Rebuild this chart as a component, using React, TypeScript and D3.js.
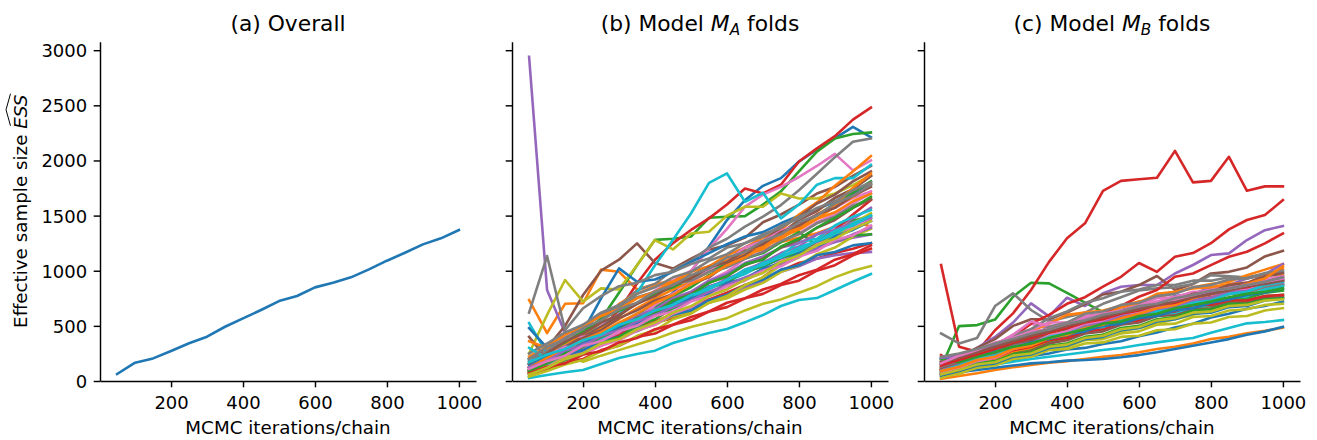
import React, { useEffect, useRef } from 'react';
import * as d3 from 'd3';

// iterations per chain (x values shared by every line)
const iterations = [50, 100, 150, 200, 250, 300, 350, 400, 450, 500, 550, 600, 650, 700, 750, 800, 850, 900, 950, 1000];

// (a) overall ESS
const overallEss = [63, 166, 205, 272, 342, 402, 492, 568, 644, 725, 771, 849, 891, 940, 1012, 1091, 1163, 1239, 1294, 1369];

// (b) model M_A, one row per fold
const foldsA = [
  [80, 150, 205, 280, 365, 430, 520, 650, 800, 990, 1220, 1460, 1640, 1770, 1840, 1990, 2100, 2200, 2305, 2210],
  [734, 435, 700, 705, 1010, 990, 830, 880, 910, 950, 1010, 1080, 1150, 1190, 1260, 1300, 1340, 1400, 1460, 1398],
  [80, 200, 300, 420, 560, 800, 1050, 1280, 1290, 1310, 1480, 1490, 1495, 1600, 1720, 1900, 2080, 2200, 2240, 2254],
  [100, 170, 250, 380, 480, 640, 885, 1100, 1250, 1370, 1475, 1600, 1746, 1700, 1780, 1990, 2110, 2220, 2370, 2480],
  [2940, 825, 435, 400, 430, 470, 560, 610, 700, 770, 840, 930, 990, 1080, 1130, 1190, 1240, 1260, 1300, 1330],
  [200, 300, 500, 780, 1000, 1100, 1248, 1070, 1020, 1110, 1190, 1230, 1300, 1440, 1510, 1600, 1700, 1760, 1860, 1950],
  [150, 240, 330, 410, 500, 610, 700, 820, 910, 1000, 1200, 1380, 1580, 1690, 1760, 1850, 1950, 2060, 1910, 2000],
  [130, 280, 390, 510, 580, 690, 820, 880, 1010, 1090, 1210, 1290, 1400, 1490, 1595, 1730, 1880, 2030, 2170, 2200],
  [250, 600, 916, 720, 840, 830, 1050, 1278, 1193, 1338, 1353, 1500, 1580, 1580, 1700, 1655, 1655, 1700, 1776, 1867],
  [525, 250, 350, 420, 490, 600, 800, 1050, 1280, 1519, 1797, 1882, 1625, 1707, 1475, 1600, 1780, 1840, 1840, 1960],
  [480, 300, 260, 450, 750, 1021, 900, 920, 990, 1080, 1160, 1240, 1310, 1350, 1430, 1500, 1560, 1625, 1700, 1790],
  [150, 260, 340, 420, 530, 700, 790, 860, 900, 990, 1040, 1140, 1210, 1300, 1370, 1510, 1620, 1770, 1900, 2040],
  [60, 150, 240, 330, 430, 520, 610, 680, 770, 850, 960, 1040, 1140, 1230, 1310, 1410, 1500, 1610, 1710, 1810],
  [120, 180, 230, 300, 370, 420, 490, 540, 610, 670, 740, 800, 870, 920, 1000, 1070, 1110, 1160, 1200, 1250],
  [90, 160, 230, 300, 370, 460, 510, 600, 690, 750, 860, 910, 1010, 1070, 1160, 1220, 1330, 1400, 1470, 1570],
  [400, 200, 310, 400, 490, 590, 710, 770, 890, 950, 1040, 1090, 1210, 1270, 1390, 1490, 1610, 1690, 1810, 1900],
  [100, 200, 430, 400, 440, 500, 570, 630, 730, 790, 910, 990, 1110, 1170, 1270, 1340, 1440, 1510, 1610, 1700],
  [620, 1133, 462, 660, 770, 860, 890, 960, 990, 1060, 1110, 1210, 1250, 1330, 1390, 1490, 1550, 1660, 1740, 1860],
  [100, 180, 253, 175, 230, 280, 330, 380, 440, 490, 530, 570, 640, 700, 740, 800, 860, 940, 1000, 1042],
  [27, 54, 80, 100, 154, 208, 245, 275, 344, 392, 435, 471, 532, 598, 680, 734, 752, 825, 900, 970],
  [200, 240, 310, 360, 430, 500, 570, 620, 710, 780, 850, 900, 990, 1040, 1110, 1170, 1260, 1320, 1410, 1480],
  [360, 300, 270, 380, 470, 560, 660, 750, 830, 900, 990, 1050, 1150, 1210, 1310, 1370, 1470, 1530, 1630, 1700],
  [150, 260, 350, 450, 560, 640, 700, 790, 850, 940, 1000, 1060, 1110, 1160, 1260, 1350, 1230, 1340, 1450, 1500],
  [80, 130, 190, 250, 330, 400, 470, 530, 570, 620, 710, 770, 860, 940, 1060, 1140, 1270, 1370, 1510, 1640],
  [60, 120, 200, 270, 320, 400, 450, 520, 610, 660, 730, 780, 850, 900, 990, 1040, 1110, 1140, 1160, 1170],
  [120, 220, 300, 390, 460, 570, 640, 730, 790, 880, 940, 1060, 1140, 1260, 1340, 1460, 1540, 1660, 1740, 1860],
  [130, 230, 310, 300, 370, 440, 570, 690, 790, 890, 1010, 1090, 1210, 1270, 1360, 1420, 1510, 1570, 1660, 1720],
  [180, 270, 390, 470, 610, 670, 760, 810, 880, 910, 990, 1030, 1110, 1170, 1270, 1330, 1430, 1490, 1590, 1650],
  [80, 140, 210, 250, 330, 370, 460, 510, 590, 630, 710, 750, 830, 890, 990, 1050, 1150, 1210, 1310, 1380],
  [200, 150, 250, 330, 390, 460, 490, 610, 690, 790, 840, 910, 970, 1060, 1140, 1260, 1290, 1410, 1490, 1550],
  [100, 170, 240, 280, 360, 400, 480, 520, 600, 640, 730, 780, 870, 920, 1010, 1050, 1140, 1170, 1230, 1250],
  [220, 310, 420, 500, 590, 650, 750, 810, 900, 950, 1040, 1090, 1180, 1230, 1330, 1400, 1510, 1600, 1750, 1880],
  [40, 110, 190, 240, 340, 400, 500, 560, 660, 730, 840, 900, 990, 1040, 1120, 1160, 1240, 1270, 1320, 1330],
  [60, 100, 160, 200, 280, 320, 400, 430, 510, 550, 630, 670, 750, 790, 870, 910, 1000, 1050, 1140, 1200],
  [150, 210, 290, 340, 440, 490, 590, 650, 750, 810, 910, 970, 1070, 1130, 1210, 1250, 1330, 1370, 1440, 1480],
  [90, 160, 250, 310, 410, 470, 570, 630, 730, 790, 890, 950, 1050, 1110, 1210, 1280, 1390, 1460, 1570, 1650],
  [70, 130, 200, 240, 320, 370, 460, 510, 610, 670, 770, 830, 930, 990, 1090, 1140, 1240, 1300, 1400, 1460],
  [250, 340, 440, 510, 620, 690, 790, 850, 940, 990, 1090, 1150, 1250, 1310, 1410, 1470, 1570, 1630, 1730, 1800],
  [40, 90, 150, 190, 270, 320, 410, 460, 560, 610, 710, 770, 870, 940, 1050, 1120, 1230, 1310, 1430, 1520],
  [300, 200, 270, 320, 410, 460, 550, 600, 690, 750, 850, 910, 1010, 1050, 1130, 1180, 1270, 1330, 1430, 1500],
  [150, 230, 270, 360, 400, 490, 530, 610, 670, 750, 790, 890, 930, 1020, 1070, 1160, 1200, 1310, 1370, 1450],
  [120, 210, 280, 370, 440, 530, 610, 710, 780, 880, 950, 1050, 1120, 1220, 1290, 1390, 1470, 1580, 1670, 1780],
  [90, 160, 250, 310, 400, 460, 570, 610, 730, 780, 890, 950, 1060, 1100, 1220, 1290, 1390, 1480, 1570, 1670],
  [70, 130, 160, 240, 270, 350, 390, 470, 510, 580, 630, 710, 750, 830, 880, 960, 1010, 1100, 1150, 1230],
  [120, 180, 280, 320, 410, 460, 540, 600, 670, 730, 810, 870, 940, 1000, 1070, 1130, 1200, 1260, 1330, 1390],
  [160, 250, 360, 430, 530, 600, 700, 770, 870, 930, 1030, 1080, 1180, 1240, 1350, 1410, 1510, 1570, 1680, 1760],
  [110, 180, 230, 320, 360, 450, 500, 590, 630, 720, 770, 860, 910, 1000, 1040, 1130, 1180, 1280, 1320, 1410],
  [200, 310, 380, 480, 550, 650, 710, 810, 870, 960, 1020, 1120, 1170, 1270, 1330, 1440, 1500, 1610, 1680, 1780],
  [60, 120, 200, 250, 340, 380, 470, 530, 620, 680, 770, 830, 920, 980, 1080, 1140, 1230, 1290, 1380, 1450],
  [170, 240, 290, 370, 420, 510, 560, 640, 690, 780, 830, 920, 980, 1070, 1120, 1210, 1270, 1360, 1410, 1500],
];

// (c) model M_B, one row per fold
const foldsB = [
  [200, 215, 240, 250, 310, 330, 390, 410, 470, 490, 550, 570, 630, 650, 710, 730, 790, 810, 860, 880],
  [20, 45, 70, 100, 125, 145, 165, 180, 200, 220, 236, 260, 290, 310, 340, 381, 400, 432, 455, 483],
  [120, 498, 507, 557, 764, 891, 885, 800, 710, 625, 640, 720, 690, 730, 770, 780, 790, 820, 850, 870],
  [1051, 311, 265, 460, 613, 825, 1080, 1295, 1430, 1725, 1815, 1830, 1843, 2087, 1801, 1815, 2033, 1725, 1765, 1765],
  [150, 200, 300, 400, 530, 704, 586, 755, 680, 795, 855, 870, 870, 975, 1052, 1142, 1157, 1278, 1368, 1405],
  [150, 220, 300, 380, 500, 560, 560, 620, 698, 785, 810, 870, 952, 825, 880, 975, 990, 1030, 1130, 1180],
  [100, 180, 250, 330, 420, 520, 480, 470, 460, 500, 560, 600, 650, 700, 720, 760, 800, 850, 880, 920],
  [431, 341, 390, 680, 795, 644, 540, 580, 620, 700, 760, 820, 840, 850, 880, 960, 950, 940, 970, 990],
  [180, 100, 150, 200, 240, 280, 310, 340, 380, 420, 450, 480, 520, 560, 600, 640, 680, 710, 740, 760],
  [200, 230, 260, 300, 330, 380, 420, 470, 450, 520, 560, 600, 640, 690, 740, 780, 820, 850, 880, 920],
  [80, 100, 130, 165, 190, 225, 250, 285, 300, 335, 360, 405, 440, 485, 520, 575, 610, 655, 680, 720],
  [120, 180, 250, 320, 380, 450, 520, 600, 620, 640, 680, 720, 760, 800, 850, 880, 900, 960, 1010, 1060],
  [60, 100, 160, 190, 260, 290, 360, 390, 450, 470, 530, 550, 610, 630, 680, 690, 740, 750, 800, 820],
  [236, 130, 210, 320, 400, 520, 600, 700, 760, 855, 945, 1070, 990, 1127, 1160, 1250, 1375, 1460, 1505, 1640],
  [60, 120, 170, 250, 290, 370, 410, 490, 510, 570, 610, 670, 710, 770, 790, 850, 870, 930, 970, 1060],
  [100, 150, 210, 250, 330, 370, 440, 460, 530, 550, 610, 630, 690, 710, 760, 770, 810, 820, 870, 900],
  [130, 200, 270, 310, 410, 470, 530, 530, 590, 610, 670, 690, 750, 760, 810, 810, 860, 870, 920, 940],
  [180, 220, 280, 320, 410, 470, 570, 630, 710, 750, 810, 830, 870, 870, 910, 910, 940, 930, 960, 960],
  [100, 60, 130, 160, 220, 240, 290, 310, 370, 380, 430, 450, 510, 520, 580, 590, 640, 650, 690, 700],
  [60, 90, 120, 150, 175, 200, 220, 240, 260, 281, 300, 326, 350, 372, 390, 438, 480, 523, 535, 553],
  [60, 80, 100, 120, 140, 160, 170, 185, 190, 200, 215, 235, 260, 290, 320, 350, 380, 420, 450, 492],
  [60, 110, 170, 200, 270, 300, 370, 410, 480, 510, 570, 590, 650, 670, 730, 750, 810, 840, 910, 960],
  [150, 180, 220, 240, 300, 320, 380, 400, 460, 480, 540, 550, 610, 620, 670, 680, 730, 730, 770, 780],
  [100, 150, 200, 260, 320, 380, 440, 500, 550, 605, 680, 764, 825, 945, 975, 1051, 1127, 1172, 1248, 1338],
  [90, 140, 200, 230, 300, 340, 420, 450, 510, 530, 590, 610, 670, 690, 740, 750, 800, 810, 860, 880],
  [40, 80, 140, 170, 240, 270, 340, 370, 430, 450, 510, 530, 590, 600, 650, 660, 710, 710, 750, 760],
  [200, 150, 200, 300, 420, 540, 500, 510, 580, 590, 620, 680, 720, 760, 790, 830, 860, 890, 920, 950],
  [80, 130, 190, 220, 290, 320, 390, 420, 490, 510, 570, 590, 650, 670, 730, 740, 790, 800, 850, 870],
  [30, 70, 120, 140, 200, 220, 280, 290, 340, 350, 400, 410, 460, 470, 520, 530, 580, 590, 640, 660],
  [150, 180, 230, 260, 330, 370, 440, 420, 450, 470, 530, 550, 610, 620, 670, 690, 750, 770, 830, 860],
  [50, 90, 140, 160, 220, 240, 300, 320, 380, 400, 460, 480, 540, 560, 610, 620, 670, 680, 730, 750],
  [100, 150, 210, 240, 310, 350, 430, 470, 550, 590, 670, 710, 790, 810, 840, 850, 880, 890, 950, 1020],
  [70, 110, 160, 180, 240, 260, 320, 340, 400, 420, 480, 500, 560, 580, 640, 650, 700, 700, 740, 750],
  [170, 140, 190, 210, 280, 310, 370, 390, 450, 470, 530, 550, 610, 630, 690, 690, 730, 730, 770, 780],
  [110, 160, 220, 250, 320, 350, 410, 430, 490, 510, 570, 590, 650, 670, 730, 750, 810, 830, 890, 920],
  [120, 170, 230, 260, 340, 370, 440, 470, 540, 570, 630, 650, 710, 730, 790, 810, 870, 890, 950, 980],
  [70, 120, 180, 210, 290, 330, 410, 450, 520, 550, 610, 630, 690, 710, 770, 780, 830, 840, 890, 910],
  [130, 180, 250, 290, 370, 410, 490, 530, 610, 630, 690, 710, 770, 790, 850, 870, 920, 930, 980, 1000],
  [60, 100, 150, 170, 230, 250, 310, 330, 390, 410, 470, 490, 550, 570, 620, 630, 680, 690, 730, 740],
  [90, 140, 200, 230, 300, 330, 400, 430, 480, 490, 550, 570, 630, 650, 710, 730, 790, 810, 870, 900],
  [210, 190, 230, 270, 300, 350, 380, 420, 450, 500, 520, 570, 590, 640, 660, 710, 740, 780, 800, 840],
  [90, 130, 190, 220, 290, 320, 390, 420, 480, 510, 570, 610, 660, 690, 750, 790, 830, 880, 930, 1040],
  [200, 170, 220, 260, 310, 340, 390, 430, 470, 520, 540, 590, 610, 660, 690, 720, 760, 790, 810, 840],
  [140, 190, 240, 290, 350, 390, 440, 480, 530, 560, 610, 640, 690, 710, 760, 790, 830, 850, 890, 920],
  [210, 230, 280, 330, 390, 420, 470, 500, 560, 590, 640, 670, 710, 740, 780, 810, 840, 870, 900, 940],
  [170, 210, 260, 310, 360, 410, 450, 500, 540, 580, 620, 650, 690, 720, 760, 790, 820, 860, 880, 910],
  [160, 230, 280, 350, 390, 450, 470, 520, 560, 610, 640, 680, 720, 740, 780, 820, 840, 870, 900, 930],
  [220, 250, 290, 340, 380, 430, 470, 520, 550, 600, 630, 680, 700, 750, 780, 820, 840, 870, 900, 940],
];

const yTicks = [0, 500, 1000, 1500, 2000, 2500, 3000];
const xTicks = [200, 400, 600, 800, 1000];

const FONT = 'DejaVu Sans, sans-serif';

export default function App() {
  const ref = useRef<SVGSVGElement>(null);

  useEffect(() => {
    const svg = d3.select(ref.current);
    svg.selectAll('*').remove();

    const top = 41.7, bottom = 381, panelWidth = 376;
    const lefts = [100, 512, 924];
    const colors = d3.schemeCategory10;
    const plain = d3.format('d');

    const y = d3.scaleLinear().domain([0, 3077]).range([bottom, top]);

    const panels = [
      { series: [overallEss], title: 'a' },
      { series: foldsA, title: 'b' },
      { series: foldsB, title: 'c' },
    ];

    panels.forEach((p, i) => {
      const left = lefts[i];
      const x = d3.scaleLinear().domain([2.5, 1047.5]).range([left, left + panelWidth]);
      const g = svg.append('g');

      const line = d3.line<number>()
        .x((d, j) => x(iterations[j]))
        .y(d => y(d));

      g.selectAll('path.fold')
        .data(p.series)
        .enter()
        .append('path')
        .attr('class', 'fold')
        .attr('d', d => line(d))
        .attr('fill', 'none')
        .attr('stroke', (d, k) => colors[k % 10])
        .attr('stroke-width', 2.6)
        .attr('stroke-linejoin', 'round')
        .attr('stroke-linecap', 'square');

      // x axis
      const xAxis = d3.axisBottom(x).tickValues(xTicks).tickFormat(plain).tickSize(6.3).tickSizeOuter(0);
      const gx = g.append('g')
        .attr('transform', 'translate(0,' + bottom + ')')
        .call(xAxis);
      gx.selectAll('text')
        .attr('y', 28).attr('dy', null)
        .attr('font-size', 18).attr('font-family', FONT).attr('fill', '#000');

      // y axis (labels only on the first panel)
      const yAxis = d3.axisLeft(y).tickValues(yTicks).tickSize(6.3).tickSizeOuter(0)
        .tickFormat(i > 0 ? () => '' : plain);
      const gy = g.append('g')
        .attr('transform', 'translate(' + left + ',0)')
        .call(yAxis);
      gy.selectAll('text')
        .attr('x', -12.8).attr('dy', '0.36em')
        .attr('font-size', 18).attr('font-family', FONT).attr('fill', '#000');

      [gx, gy].forEach(a => {
        a.select('.domain').attr('stroke', '#000').attr('stroke-width', 1.45);
        a.selectAll('.tick line').attr('stroke', '#000').attr('stroke-width', 1.45);
      });

      // x label
      g.append('text')
        .attr('x', left + panelWidth / 2).attr('y', 434)
        .attr('text-anchor', 'middle')
        .attr('font-family', FONT).attr('font-size', 18.3)
        .text('MCMC iterations/chain');

      // title
      const t = g.append('text')
        .attr('x', left + panelWidth / 2).attr('y', 30.5)
        .attr('text-anchor', 'middle')
        .attr('font-family', FONT).attr('font-size', 21.8);
      if (p.title === 'a') {
        t.text('(a) Overall');
      } else {
        t.append('tspan').text('(' + p.title + ') Model ');
        t.append('tspan').attr('font-style', 'italic').text('M');
        t.append('tspan').attr('font-style', 'italic').attr('font-size', 15.3).attr('dy', 4.5)
          .text(p.title === 'b' ? 'A' : 'B');
        t.append('tspan').attr('dy', -4.5).text(' folds');
      }
    });

    // y label with a wide hat over ESS
    const yl = svg.append('g').attr('transform', 'translate(27,211.3) rotate(-90)');
    const label = yl.append('text')
      .attr('text-anchor', 'middle')
      .attr('font-family', FONT).attr('font-size', 18.3);
    label.append('tspan').text('Effective sample size ');
    const ess = label.append('tspan').attr('font-style', 'italic').text('ESS');
    const total = (label.node() as SVGTextElement).getComputedTextLength();
    const essLen = (ess.node() as SVGTSpanElement).getComputedTextLength();
    const end = total / 2 + 1;
    const start = end - essLen + 2;
    yl.append('path')
      .attr('d', 'M' + start + ',-16.5 L' + (start + end) / 2 + ',-21 L' + end + ',-16.5')
      .attr('fill', 'none').attr('stroke', '#000').attr('stroke-width', 1);
  }, []);

  return (
    <svg ref={ref} width={1317} height={440}
      style={{ position: 'absolute', left: 0, top: 0, background: '#fff' }} />
  );
}
